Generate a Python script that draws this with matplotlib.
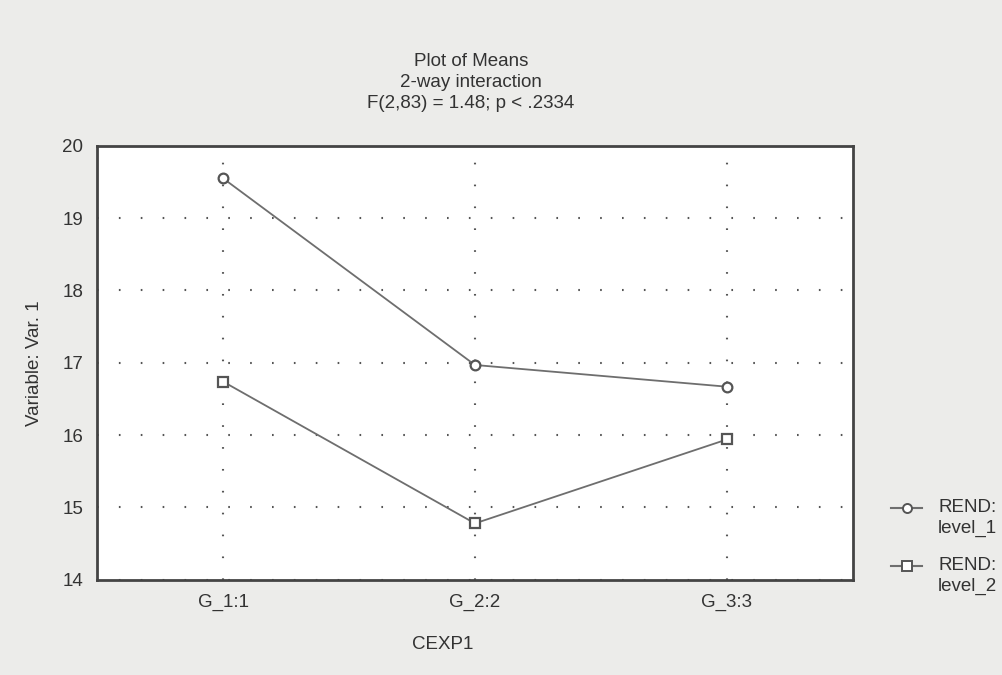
import numpy as np
import matplotlib.pyplot as plt
from matplotlib.lines import Line2D

plt.rcParams['font.family'] = ['Liberation Sans', 'DejaVu Sans']

# data
groups = ['G_1:1', 'G_2:2', 'G_3:3']
level_1 = [19.55, 16.97, 16.67]
level_2 = [16.74, 14.78, 15.94]
yticks = [14, 15, 16, 17, 18, 19, 20]
series_names = ['level_1', 'level_2']
factor = 'REND:'

W, H = 1002, 675
fig = plt.figure(figsize=(W / 100, H / 100), dpi=100)
fig.patch.set_facecolor('#ececea')
ax = fig.add_axes([0.097, 0.141, 0.754, 0.643])
ax.set_facecolor('white')

fs = 13.5
tc = '#333333'
lc = '#6e6e6e'
x = np.arange(len(groups))
markers = ['o', 's']
for vals, m in zip([level_1, level_2], markers):
    ax.plot(x, vals, color=lc, lw=1.3, marker=m, ms=7, mfc='white', mec='#555555', mew=1.6,
            zorder=3)

ax.set_xlim(-0.5, 2.5)
ax.set_ylim(14, 20)
ax.set_xticks(x)
ax.set_xticklabels(groups)
ax.set_yticks(yticks)
ax.tick_params(length=0, labelsize=fs, colors=tc, pad=10)
ax.grid(True, color='#555555', lw=1.5, linestyle=(0, (0.8, 9.7)))
for s in ax.spines.values():
    s.set_linewidth(2)
    s.set_color('#444444')

ax.set_xlabel('CEXP1', fontsize=fs, color=tc)
ax.xaxis.set_label_coords(0.457, -0.13)
ax.set_ylabel('Variable: Var. 1', fontsize=fs, color=tc, labelpad=14)

fig.text(0.47, 0.878, 'Plot of Means\n2-way interaction\nF(2,83) = 1.48; p < .2334',
         ha='center', va='center', fontsize=fs, color=tc, linespacing=1.3)

# legend drawn by hand: symbol sits on the first text line, like the scan
for i, (name, m) in enumerate(zip(series_names, markers)):
    ypx = 508 + i * 58
    yf = 1 - ypx / H
    fig.add_artist(Line2D([891 / W, 922 / W], [yf, yf], color=lc, lw=1.5,
                          transform=fig.transFigure))
    fig.add_artist(Line2D([907 / W], [yf], marker=m, ms=6.5, mfc='white', mec='#555555',
                          mew=1.4, transform=fig.transFigure))
    fig.text(938 / W, yf, factor, ha='left', va='center', fontsize=fs, color=tc)
    fig.text(938 / W, 1 - (ypx + 20) / H, name, ha='left', va='center', fontsize=fs, color=tc)

fig.savefig('out.png', dpi=100, facecolor=fig.get_facecolor())
